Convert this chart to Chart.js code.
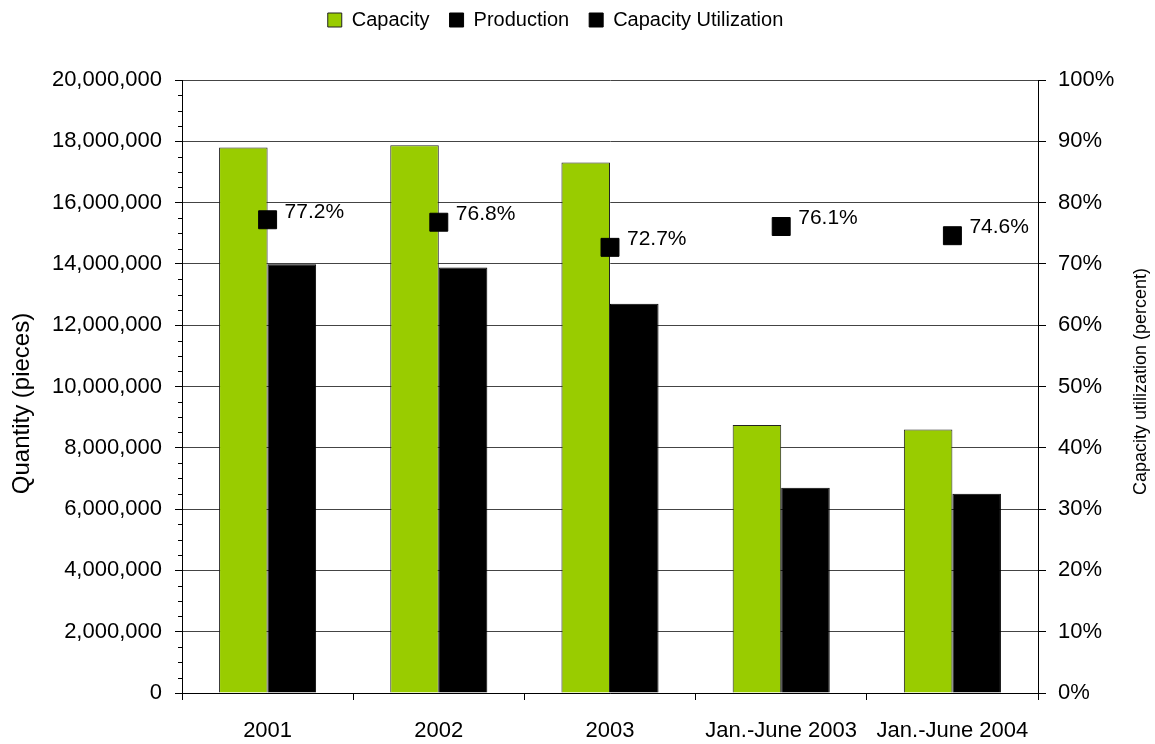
<!DOCTYPE html>
<html>
<head>
<meta charset="utf-8">
<script src="https://cdn.jsdelivr.net/npm/chart.js@4.4.1/dist/chart.umd.min.js"></script>
<style>
  html, body { margin: 0; padding: 0; background: #fff; }
</style>
</head>
<body>
<canvas id="myChart" width="1155" height="744"></canvas>
<script>
// chart values
const categories = ['2001', '2002', '2003', 'Jan.-June 2003', 'Jan.-June 2004'];
const capacity = [17800000, 17870000, 17310000, 8740000, 8600000];
const production = [13990000, 13880000, 12700000, 6700000, 6500000];
const utilization = [77.2, 76.8, 72.7, 76.1, 74.6];
const qtyMax = 20000000, qtyStep = 2000000, qtyMinorStep = 500000;
const pctMax = 100, pctStep = 10;

const FONT = "'Liberation Sans', Arial, sans-serif";
Chart.defaults.font.family = FONT;
Chart.defaults.color = '#000';

// make the legend take a fixed band at the top, nudged up and a bit left
const legendBand = {
  id: 'legendBand',
  beforeInit(chart) {
    const fit = chart.legend.fit;
    chart.legend.fit = function () { fit.call(this); this.height = 80; };
  },
  afterLayout(chart) {
    chart.legend.right -= 44;
    chart.legend.top -= 10;
  }
};

// small minor ticks on the left axis
const minorTicks = {
  id: 'minorTicks',
  afterDraw(chart) {
    const s = chart.scales.y, ctx = chart.ctx;
    ctx.save();
    ctx.strokeStyle = '#000';
    ctx.lineWidth = 1;
    for (let v = 0; v <= qtyMax; v += qtyMinorStep) {
      if (v % qtyStep === 0) continue;
      const y = Math.round(s.getPixelForValue(v)) + 0.5;
      ctx.beginPath();
      ctx.moveTo(s.right - 4, y);
      ctx.lineTo(s.right, y);
      ctx.stroke();
    }
    ctx.restore();
  }
};

// percent labels next to the utilization markers
const utilLabels = {
  id: 'utilLabels',
  afterDatasetsDraw(chart) {
    const meta = chart.getDatasetMeta(2), ctx = chart.ctx;
    ctx.save();
    ctx.font = '21px ' + FONT;
    ctx.fillStyle = '#000';
    ctx.textAlign = 'left';
    ctx.textBaseline = 'middle';
    meta.data.forEach((pt, i) => {
      ctx.fillText(utilization[i].toFixed(1) + '%', pt.x + 17, pt.y - 8);
    });
    ctx.restore();
  }
};

// axis titles, both reading bottom to top
const axisTitles = {
  id: 'axisTitles',
  afterDraw(chart) {
    const a = chart.chartArea, ctx = chart.ctx;
    const mid = (a.top + a.bottom) / 2;
    ctx.save();
    ctx.fillStyle = '#000';
    ctx.textAlign = 'center';
    ctx.textBaseline = 'middle';
    ctx.translate(22, mid + 17);
    ctx.rotate(-Math.PI / 2);
    ctx.font = '24px ' + FONT;
    ctx.fillText('Quantity (pieces)', 0, 0);
    ctx.restore();
    ctx.save();
    ctx.fillStyle = '#000';
    ctx.textAlign = 'center';
    ctx.textBaseline = 'middle';
    ctx.translate(1141, mid - 5);
    ctx.rotate(-Math.PI / 2);
    ctx.font = '18px ' + FONT;
    ctx.fillText('Capacity utilization (percent)', 0, 0);
    ctx.restore();
  }
};

const ctx = document.getElementById('myChart');
new Chart(ctx, {
  data: {
    labels: categories,
    datasets: [
      {
        type: 'bar', label: 'Capacity', data: capacity, yAxisID: 'y',
        backgroundColor: '#99cc00', borderColor: '#222222', borderWidth: 1,
        categoryPercentage: 0.567, barPercentage: 1
      },
      {
        type: 'bar', label: 'Production', data: production, yAxisID: 'y',
        backgroundColor: '#000000', borderColor: '#000000', borderWidth: 1,
        categoryPercentage: 0.567, barPercentage: 1
      },
      {
        type: 'line', label: 'Capacity Utilization', data: utilization, yAxisID: 'y1',
        showLine: false, pointStyle: 'rect', pointRadius: 12.7, pointHoverRadius: 12.7,
        pointBackgroundColor: '#000', pointBorderColor: '#000', pointBorderWidth: 1,
        borderColor: '#000', backgroundColor: '#000', order: -1
      }
    ]
  },
  options: {
    responsive: false,
    animation: false,
    devicePixelRatio: 1,
    events: [],
    layout: { padding: 0 },
    plugins: {
      tooltip: { enabled: false },
      legend: {
        position: 'top',
        labels: {
          usePointStyle: true, pointStyle: 'rect',
          boxWidth: 14, boxHeight: 14, padding: 20,
          color: '#000', font: { size: 20 },
          sort: (a, b) => a.datasetIndex - b.datasetIndex
        }
      }
    },
    scales: {
      x: {
        ticks: { font: { size: 22 }, padding: 18, maxRotation: 0, autoSkip: false, color: '#000' },
        grid: { drawOnChartArea: false, offset: true, tickLength: 7, tickColor: '#000' },
        border: { color: '#000' },
        afterFit(s) { s.height = 51; }
      },
      y: {
        position: 'left', min: 0, max: qtyMax,
        ticks: { stepSize: qtyStep, padding: 13, font: { size: 22 }, color: '#000',
                 callback: v => v.toLocaleString('en-US') },
        grid: { color: '#444', tickColor: '#000', tickLength: 7, lineWidth: 1 },
        border: { color: '#000' },
        afterFit(s) { s.width = 182; }
      },
      y1: {
        position: 'right', min: 0, max: pctMax,
        ticks: { stepSize: pctStep, padding: 12, font: { size: 22 }, color: '#000',
                 callback: v => v + '%' },
        grid: { drawOnChartArea: false, tickLength: 8, tickColor: '#000' },
        border: { color: '#000' },
        afterFit(s) { s.width = 117; }
      }
    }
  },
  plugins: [legendBand, minorTicks, utilLabels, axisTitles]
});
</script>
</body>
</html>
